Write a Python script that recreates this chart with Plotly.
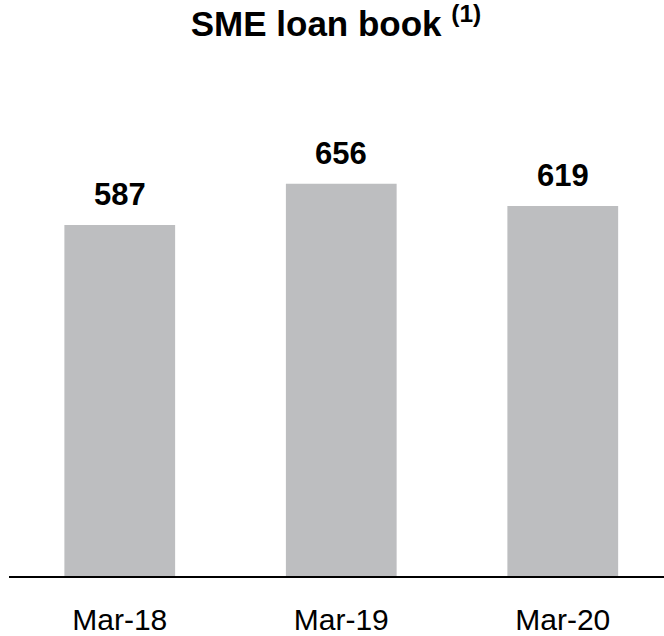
import plotly.graph_objects as go

# SME loan book, balances at each March year-end
periods = ["Mar-18", "Mar-19", "Mar-20"]
loan_book = [587, 656, 619]
value_labels = ["587", "656", "619"]

BAR_COLOR = "#BDBEC0"
FONT = "Liberation Sans, Arial, sans-serif"

fig = go.Figure(
    go.Bar(
        x=periods,
        y=loan_book,
        marker=dict(color=BAR_COLOR, line=dict(width=0)),
        width=0.5,
        hoverinfo="skip",
    )
)

# Bold value labels above each bar
for p, v, t in zip(periods, loan_book, value_labels):
    fig.add_annotation(
        x=p, y=v, text=f"<b>{t}</b>", showarrow=False,
        yanchor="bottom", yshift=11,
        font=dict(family=FONT, size=31, color="#000000"),
    )

fig.update_layout(
    width=664,
    height=636,
    margin=dict(l=9, r=0, t=80, b=54),
    paper_bgcolor="white",
    plot_bgcolor="white",
    showlegend=False,
    title=dict(
        text="<b>SME loan book <sup>(1)</sup></b>",
        x=0.506, xanchor="center", y=0.962, yanchor="middle",
        font=dict(family=FONT, size=35, color="#000000"),
    ),
    xaxis=dict(
        range=[-0.5, 2.457],
        showline=True, linecolor="#000000", linewidth=2,
        ticks="outside", ticklen=16, tickcolor="rgba(0,0,0,0)",
        tickfont=dict(family=FONT, size=30, color="#000000"),
        showgrid=False, zeroline=False, fixedrange=True,
    ),
    yaxis=dict(
        range=[0, 829.75],
        visible=False, showgrid=False, zeroline=False, fixedrange=True,
    ),
)

fig.write_html("out.html")
